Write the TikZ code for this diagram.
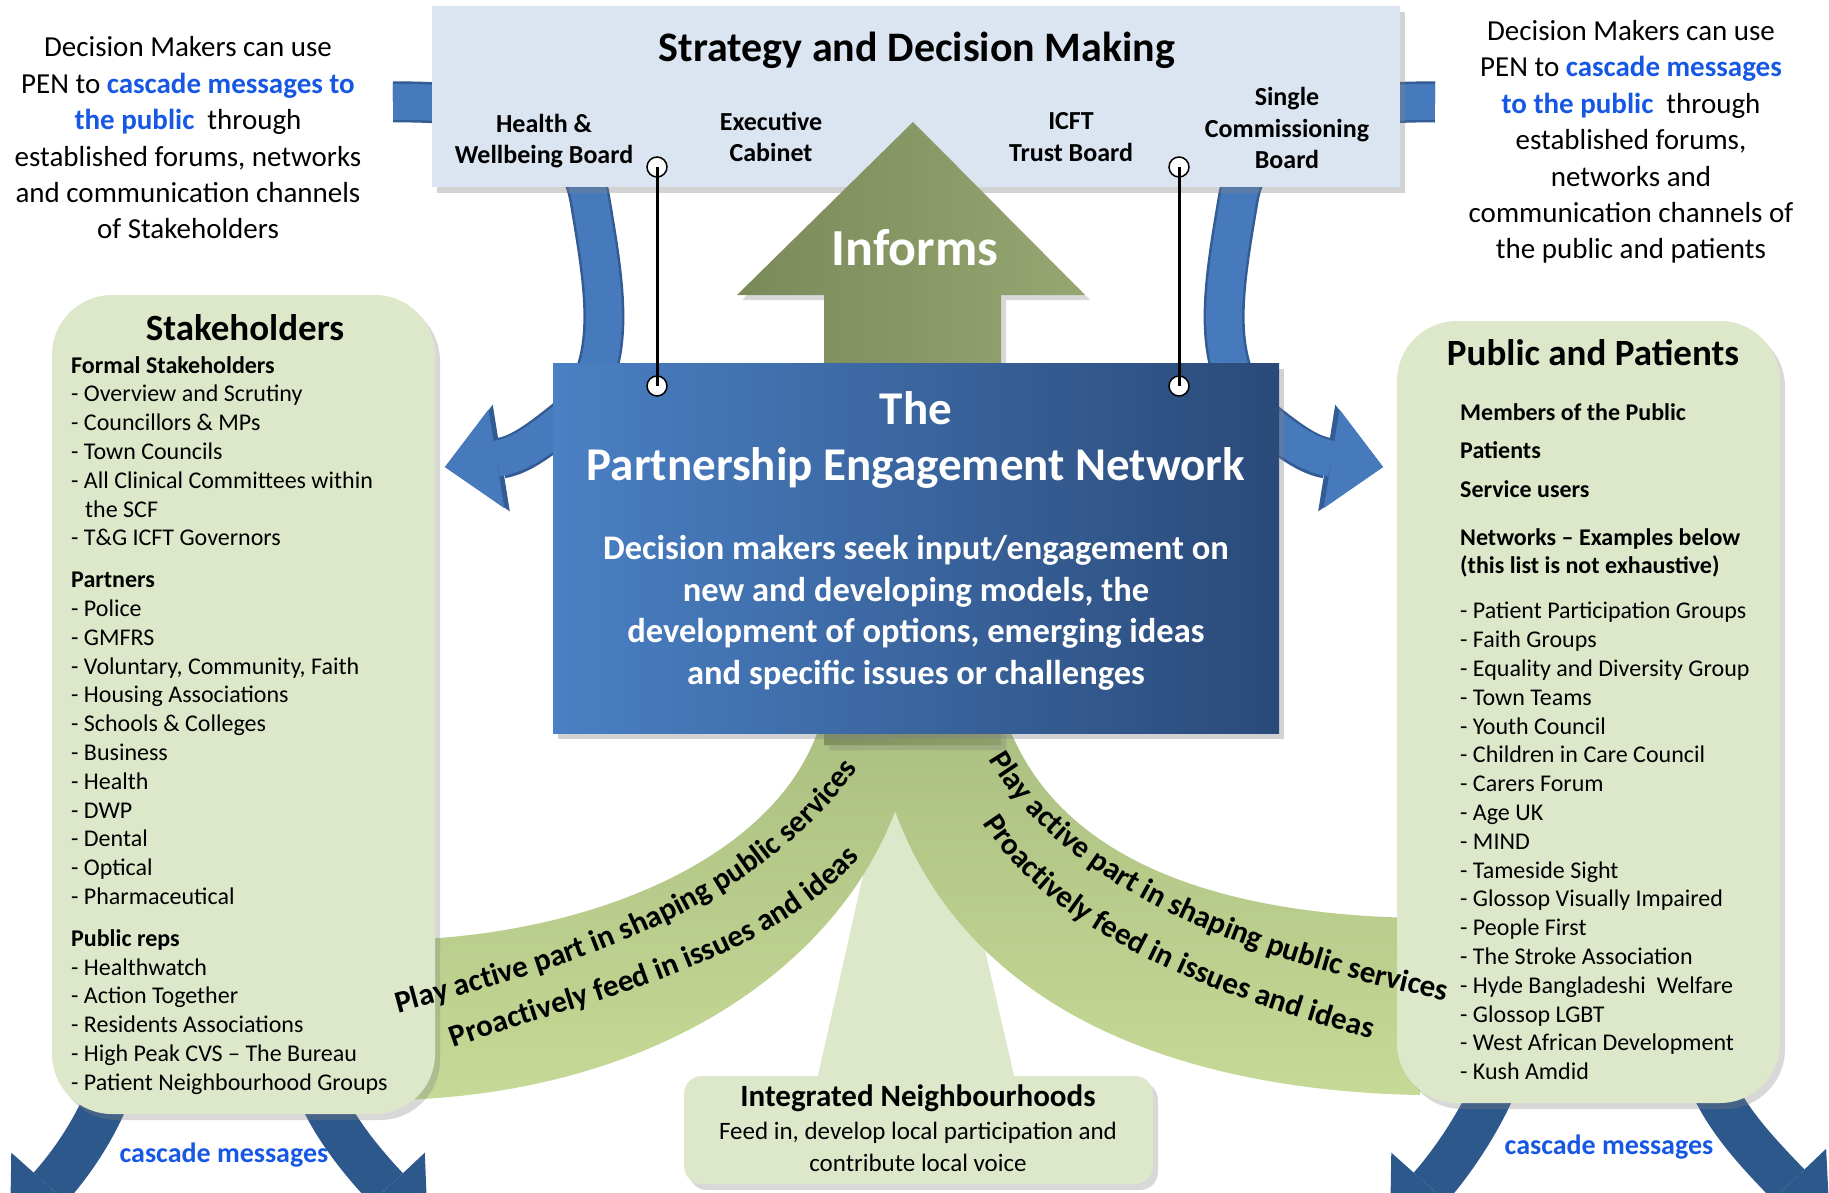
\documentclass[tikz,border=0pt]{standalone}
\usepackage{fontspec}
\setmainfont{Carlito}
\usetikzlibrary{arrows.meta, positioning, shadows, decorations.text}

\definecolor{stratblue}{RGB}{219,229,241}
\definecolor{penlight}{RGB}{74,128,196}
\definecolor{pendark}{RGB}{42,74,121}
\definecolor{olivel}{RGB}{122,137,88}
\definecolor{oliver}{RGB}{150,167,114}
\definecolor{boxgreen}{RGB}{221,232,202}
\definecolor{bandtop}{RGB}{170,190,128}
\definecolor{bandbot}{RGB}{198,217,150}
\definecolor{arrowblue}{RGB}{70,122,188}
\definecolor{arrowedge}{RGB}{52,92,148}
\definecolor{deepblue}{RGB}{44,88,140}
\definecolor{cascblue}{RGB}{22,88,228}

\newcommand\stratfont{\fontsize{42}{50}\selectfont\bfseries}
\newcommand\boardfont{\fontsize{26}{31.5}\selectfont\bfseries}
\newcommand\infofont{\fontsize{52}{60}\selectfont\bfseries}
\newcommand\pentitlefont{\fontsize{47}{56}\selectfont\bfseries}
\newcommand\pendescfont{\fontsize{34.5}{41.5}\selectfont\bfseries}
\newcommand\groupheadfont{\fontsize{37}{44}\selectfont\bfseries}
\newcommand\itemfont{\fontsize{24}{28.8}\selectfont}
\newcommand\notefont{\fontsize{29}{36.4}\selectfont}
\newcommand\bandfont{\fontsize{31}{36}\selectfont\bfseries}
\newcommand\inheadfont{\fontsize{31}{36}\selectfont\bfseries}
\newcommand\inbodyfont{\fontsize{25}{32}\selectfont}
\newcommand\cascfont{\fontsize{28}{34}\selectfont\bfseries}
\newcommand\hilite{\color{cascblue}\bfseries}

\begin{document}
\begin{tikzpicture}[x=1pt,y=-1pt,
	stratbox/.style={fill=stratblue,inner sep=0pt,minimum width=968pt,minimum height=181pt,
		drop shadow={shadow xshift=5pt,shadow yshift=-6pt,opacity=0.35}},
	penbox/.style={left color=penlight,right color=pendark,inner sep=0pt,
		minimum width=726pt,minimum height=370pt,
		drop shadow={shadow xshift=5pt,shadow yshift=-6pt,opacity=0.35}},
	groupbox/.style={fill=boxgreen,inner sep=0pt,rounded corners=60pt,
		drop shadow={shadow xshift=5pt,shadow yshift=-6pt,opacity=0.3}},
	boardlbl/.style={align=center,font=\boardfont},
	itemlist/.style={align=left,anchor=north west,inner sep=0pt,font=\itemfont},
	eyelet/.style={circle,draw,fill=white,line width=1.5pt,minimum size=20pt,inner sep=0pt},
	curvedarrow/.style={draw=arrowblue,line width=36pt,-{Triangle[length=52pt,width=100pt,line width=0pt]},
		preaction={draw=arrowedge,line width=41pt,-{Triangle[length=57pt,width=108pt,line width=0pt]}}},
	cascade/.style={draw=deepblue,line width=44pt,-{Triangle[length=60pt,width=104pt,line width=0pt]}},
	band/.style={top color=bandtop,bottom color=bandbot},
	bandtext/.style={decorate,decoration={text along path,text align=left}}
]
	\fill[white] (0,0) rectangle (1829,1192);
	\clip (0,0) rectangle (1829,1192);

	\coordinate (tailL) at (393,102);
	\coordinate (tipL) at (445,467);
	\coordinate (tailR) at (1435,102);
	\coordinate (tipR) at (1383,467);
	\coordinate (cLLs) at (110,1090);
	\coordinate (cLLe) at (10,1232);
	\coordinate (cLRs) at (318,1090);
	\coordinate (cLRe) at (428,1232);
	\coordinate (cRLs) at (1495,1085);
	\coordinate (cRLe) at (1390,1232);
	\coordinate (cRRs) at (1712,1085);
	\coordinate (cRRe) at (1830,1228);

	% green bands below the network
	\fill[boxgreen] (895,733) -- (935,733) -- (1015,1080) -- (817,1080) -- cycle;
	\path[band] (400,940) .. controls (600,935) and (800,850) .. (826,700) -- (916,700)
		.. controls (915,900) and (720,1090) .. (400,1100) -- cycle;
	\path[band] (1000,700) .. controls (1040,850) and (1200,915) .. (1420,918) -- (1420,1095)
		.. controls (1150,1090) and (900,990) .. (870,700) -- cycle;

	% cascade arrows
	\draw[cascade] (cLLs) .. controls (95,1130) and (70,1165) .. (cLLe);
	\draw[cascade] (cLRs) .. controls (335,1130) and (365,1165) .. (cLRe);
	\draw[cascade] (cRLs) .. controls (1478,1125) and (1450,1165) .. (cRLe);
	\draw[cascade] (cRRs) .. controls (1730,1125) and (1765,1160) .. (cRRe);

	% curved arrows from the boards
	\draw[curvedarrow] (tailL) .. controls (530,100) and (580,140) .. (590,200)
		.. controls (605,290) and (620,370) .. (565,420) .. controls (540,440) and (520,455) .. (tipL);
	\draw[curvedarrow] (tailR) .. controls (1298,100) and (1248,140) .. (1238,200)
		.. controls (1223,290) and (1208,370) .. (1263,420) .. controls (1288,440) and (1308,455) .. (tipR);

	\node[stratbox] at (916,96.5) (strat) {};
	\node[font=\stratfont] at (917,50) (strattitle) {Strategy and Decision Making};
	\node[boardlbl] at (544,141) (hwb) {Health \&\\Wellbeing Board};
	\node[boardlbl] at (771,137) (exec) {Executive\\Cabinet};
	\node[boardlbl] at (1071,137) (icft) {ICFT\\Trust Board};
	\node[boardlbl] at (1287,128) (scb) {Single\\Commissioning\\Board};

	\path[left color=olivel,right color=oliver,drop shadow={shadow xshift=5pt,shadow yshift=-5pt,opacity=0.3}]
		(913,122) -- (1085,295) -- (1001,295) -- (1001,745) -- (824,745) -- (824,295) -- (737,295) -- cycle;
	\node[font=\infofont,text=white] at (915,248) (informs) {Informs};

	\node[penbox] at (916,548) (pen) {};
	\node[font=\pentitlefont,text=white,align=center] at (916,440) (pentitle) {The\\Partnership Engagement Network};
	\node[font=\pendescfont,text=white,align=center] at (916,613) (pendesc) {Decision makers seek input/engagement on\\new and developing models, the\\development of options, emerging ideas\\and specific issues or challenges};

	\node[eyelet] at (657,167) (hwbhook) {};
	\node[eyelet] at (657,386) (penhookL) {};
	\node[eyelet] at (1179,167) (scbhook) {};
	\node[eyelet] at (1179,386) (penhookR) {};
	\draw[line width=3pt] (hwbhook.center) -- (penhookL.center);
	\draw[line width=3pt] (scbhook.center) -- (penhookR.center);

	\node[groupbox,minimum width=383pt,minimum height=819pt] at (243.5,704.5) (stake) {};
	\node[font=\groupheadfont] at (245,328) (stakehead) {Stakeholders};
	\node[itemlist] at (71,356) (stakelist) {\textbf{Formal Stakeholders}\\
		- Overview and Scrutiny\\
		- Councillors \& MPs\\
		- Town Councils\\
		- All Clinical Committees within\\
		\hspace*{14pt}the SCF\\
		- T\&G ICFT Governors\\[13pt]
		\textbf{Partners}\\
		- Police\\
		- GMFRS\\
		- Voluntary, Community, Faith\\
		- Housing Associations\\
		- Schools \& Colleges\\
		- Business\\
		- Health\\
		- DWP\\
		- Dental\\
		- Optical\\
		- Pharmaceutical\\[13pt]
		\textbf{Public reps}\\
		- Healthwatch\\
		- Action Together\\
		- Residents Associations\\
		- High Peak CVS -- The Bureau\\
		- Patient Neighbourhood Groups};

	\node[groupbox,minimum width=383pt,minimum height=782pt] at (1588.5,712) (public) {};
	\node[font=\groupheadfont] at (1593,353) (publichead) {Public and Patients};
	\node[itemlist] at (1460,403) (publiclist) {\textbf{Members of the Public}\\[9.7pt]
		\textbf{Patients}\\[9.7pt]
		\textbf{Service users}\\[19.2pt]
		\textbf{Networks -- Examples below}\\
		\textbf{(this list is not exhaustive)}\\[16.2pt]
		- Patient Participation Groups\\
		- Faith Groups\\
		- Equality and Diversity Group\\
		- Town Teams\\
		- Youth Council\\
		- Children in Care Council\\
		- Carers Forum\\
		- Age UK\\
		- MIND\\
		- Tameside Sight\\
		- Glossop Visually Impaired\\
		- People First\\
		- The Stroke Association\\
		- Hyde Bangladeshi\ \ Welfare\\
		- Glossop LGBT\\
		- West African Development\\
		- Kush Amdid};

	\node[groupbox,rounded corners=18pt,minimum width=469pt,minimum height=108pt] at (918.5,1130) (inbox) {};
	\node[font=\inheadfont] at (918,1098) (inhead) {Integrated Neighbourhoods};
	\node[font=\inbodyfont,align=center] at (918,1147) (inbody) {Feed in, develop local participation and\\contribute local voice};

	\node[font=\notefont,align=center] at (188,138) (noteL) {Decision Makers can use\\
		PEN to {\hilite cascade messages to}\\
		{\hilite the public}\ \ through\\
		established forums, networks\\
		and communication channels\\
		of Stakeholders};
	\node[font=\notefont,align=center] at (1631,142) (noteR) {Decision Makers can use\\
		PEN to {\hilite cascade messages}\\
		{\hilite to the public}\ \ through\\
		established forums,\\
		networks and\\
		communication channels of\\
		the public and patients};
	\node[font=\cascfont,text=cascblue] at (224,1155) (cascL) {cascade messages};
	\node[font=\cascfont,text=cascblue] at (1609,1147) (cascR) {cascade messages};

	% texts along the bands
	\path[bandtext,decoration={text={|\bandfont|Play active part in shaping public services}}]
		(398,1013) .. controls (572,966) and (757,912) .. (860,765);
	\path[bandtext,decoration={text={|\bandfont|Proactively feed in issues and ideas}}]
		(454,1048) .. controls (595,997) and (772,964) .. (868,849);
	\path[bandtext,decoration={text={|\bandfont|Play active part in shaping public services}}]
		(989,759) .. controls (1074,906) and (1286,967) .. (1452,1002);
	\path[bandtext,decoration={text={|\bandfont|Proactively feed in issues and ideas}}]
		(983,823) .. controls (1063,950) and (1250,1006) .. (1398,1046);
\end{tikzpicture}
\end{document}
